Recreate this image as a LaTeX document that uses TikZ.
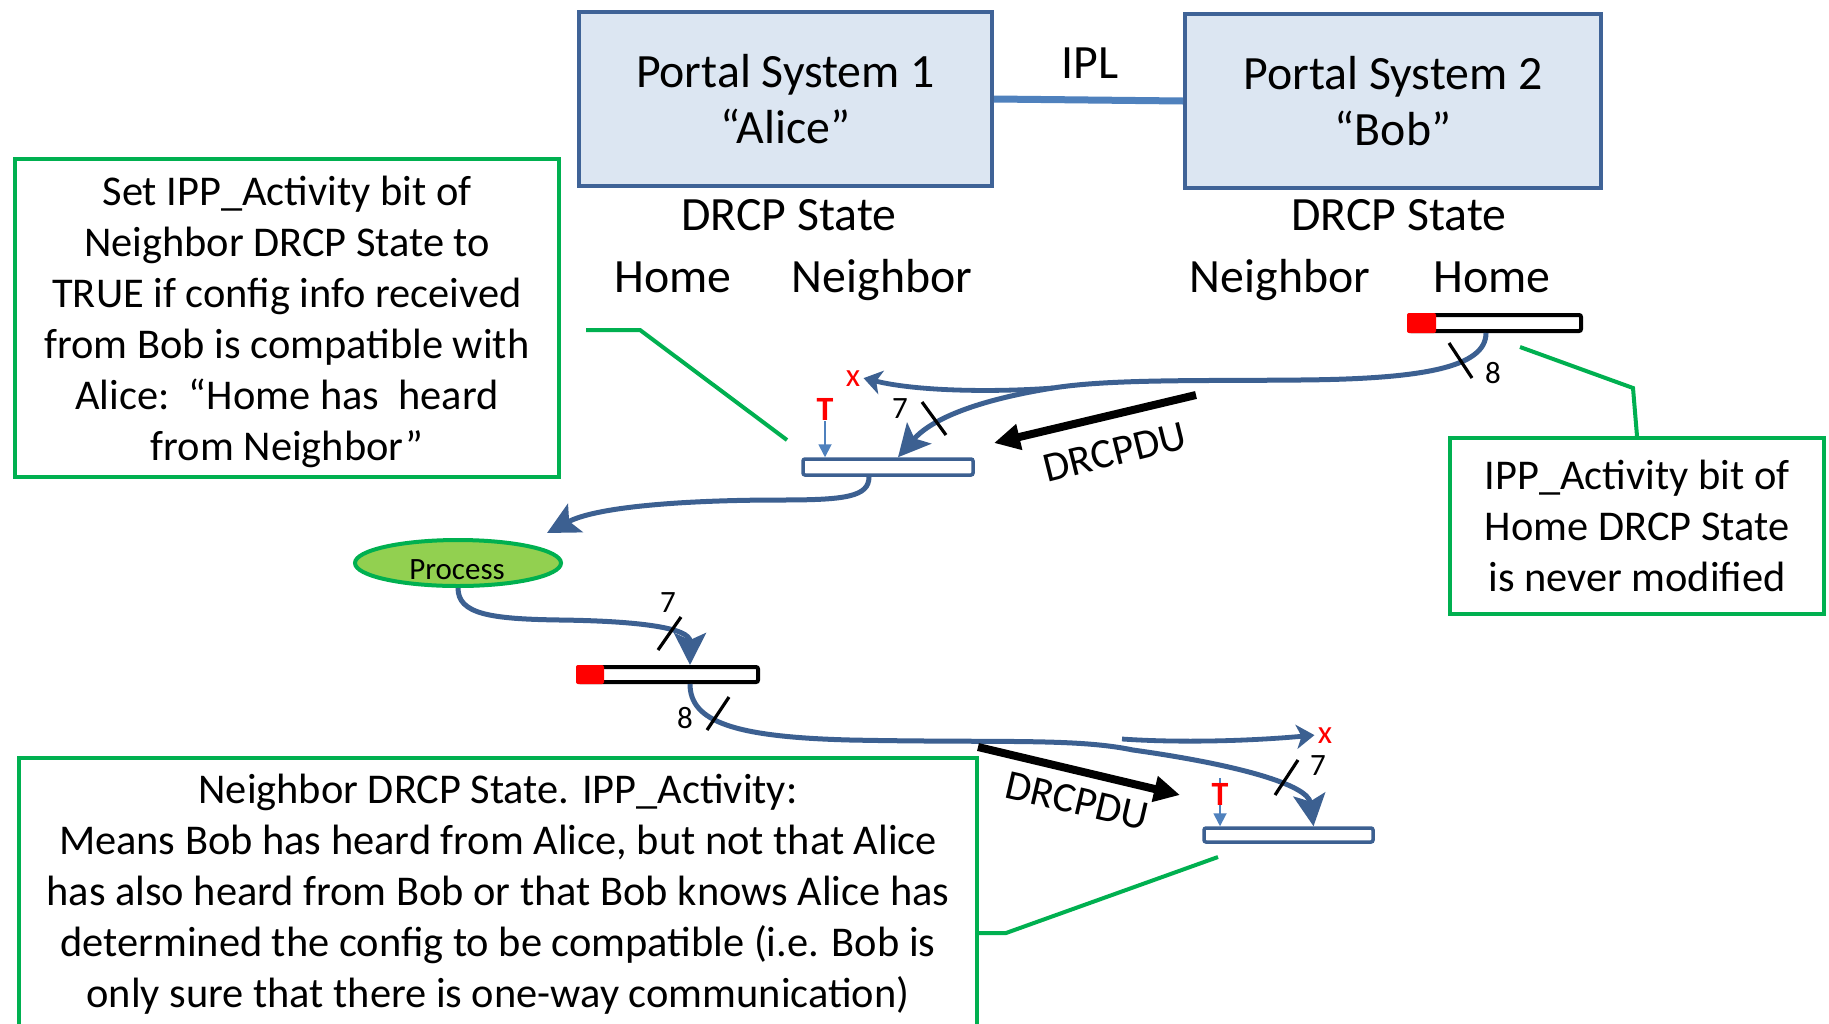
\documentclass[tikz,border=0pt]{standalone}
\usepackage{fontspec}
\setmainfont{Carlito}
\usetikzlibrary{arrows.meta,shapes.geometric,calc}
\definecolor{curveblue}{HTML}{3C6091}
\definecolor{iplblue}{HTML}{4F81BD}
\definecolor{boxfill}{HTML}{DCE6F2}
\definecolor{boxedge}{HTML}{3F6397}
\definecolor{callgreen}{HTML}{00B050}
\definecolor{procfill}{HTML}{92D050}
\definecolor{tred}{HTML}{FF0000}
\begin{document}
\begin{tikzpicture}[x=0.5pt,y=-0.5pt,
  portal/.style={draw=boxedge, fill=boxfill, line width=2pt, minimum width=206.5pt, minimum height=87pt, align=center, font=\fontsize{23.9}{28}\selectfont, inner sep=0pt},
  bigtxt/.style={font=\fontsize{23.9}{28}\selectfont, inner sep=0pt, anchor=base},
  note/.style={draw=callgreen, line width=2pt, align=center, inner sep=0pt, font=\fontsize{21.2}{25.5}\selectfont},
  notetxt/.style={font=\fontsize{21.2}{25.5}\selectfont, align=center, inner sep=0pt},
  greenline/.style={draw=callgreen, line width=2pt},
  blackbar/.style={draw=black, fill=white, line width=2pt, rounded corners=1pt, inner sep=0pt},
  bluebar/.style={draw=curveblue, fill=white, line width=1.75pt, rounded corners=1pt, inner sep=0pt},
  flow/.style={draw=curveblue, line width=2.5pt, -{Stealth[length=16pt,width=16pt,inset=3.5pt]}},
  lostflow/.style={draw=curveblue, line width=2.4pt, -{Stealth[length=9pt,width=12pt,inset=2.5pt]}},
  tickmark/.style={draw=black, line width=1.6pt},
  numlbl/.style={font=\fontsize{15.5}{18}\selectfont, inner sep=0pt, anchor=base},
  xlbl/.style={font=\fontsize{16.5}{18}\selectfont, text=tred, inner sep=1.5pt, anchor=base},
  tlbl/.style={font=\fontsize{17}{18}\selectfont\bfseries, text=tred, inner sep=0.5pt, anchor=base},
  tarrow/.style={draw=iplblue, line width=0.9pt, -{Triangle[length=6.5pt,width=6.5pt]}},
  pdu/.style={draw=black, line width=4pt, -{Triangle[length=13pt,width=12.5pt]}},
  pdutxt/.style={font=\fontsize{21}{24}\selectfont, inner sep=0pt}
]
\useasboundingbox (0,0) rectangle (1829,1023);
\clip (0,0) rectangle (1829,1023);
\fill[white] (0,0) rectangle (1829,1023);

% portal systems
\node[portal] (ps1) at (785.5,99) {Portal System 1\\“Alice”};
\node[portal, minimum width=208pt] (ps2) at (1393,101) {Portal System 2\\“Bob”};
\draw[iplblue, line width=3.5pt] (ps1.east) -- (ps2.west);
\node[bigtxt] (ipl) at (1090,78) {IPL};
\node[bigtxt] (ds1) at (789,230) {DRCP State};
\node[bigtxt] (ds2) at (1399,230) {DRCP State};
\node[bigtxt] (h1) at (673,292) {Home};
\node[bigtxt] (n1) at (882,292) {Neighbor};
\node[bigtxt] (n2) at (1280,292) {Neighbor};
\node[bigtxt] (h2) at (1492,292) {Home};

% state bars
\node[blackbar, minimum width=86pt, minimum height=8pt] (bobH) at (1495,323) {};
\fill[tred, rounded corners=1pt] (bobH.north west) rectangle ($(bobH.south west)+(29,0)$);
\node[blackbar, minimum width=90pt, minimum height=7.5pt] (aliceH) at (668,674.5) {};
\fill[tred, rounded corners=1pt] (aliceH.north west) rectangle ($(aliceH.south west)+(28,0)$);
\node[bluebar, minimum width=85pt, minimum height=8pt] (aliceN) at (888,467) {};
\node[bluebar, minimum width=84.5pt, minimum height=7pt] (bobN) at (1288.5,835) {};

% process
\node[ellipse, draw=callgreen, fill=procfill, line width=2pt, minimum width=103pt, minimum height=23pt, inner sep=0pt] (proc) at (458,563) {};
\node[font=\fontsize{15.5}{18}\selectfont, inner sep=0pt, anchor=base] (proctxt) at (457,579) {Process};

% notes
\node[note, minimum width=272pt, minimum height=159pt] (noteL) at (287,318) {};
\node[notetxt] (noteLtxt) at (287,322) {Set IPP\_Activity bit of\\Neighbor DRCP State to\\TRUE if config info received\\from Bob is compatible with\\Alice:\ \ “Home has\ \ heard\\from Neighbor”};
\node[note, minimum width=187pt, minimum height=88pt] (noteR) at (1637,526) {IPP\_Activity bit of\\Home DRCP State\\is never modified};
\node[note, minimum width=479pt, minimum height=150pt] (noteB) at (498,908) {};
\node[notetxt] (noteBtxt) at (498,894) {Neighbor DRCP State. IPP\_Activity:\\Means Bob has heard from Alice, but not that Alice\\has also heard from Bob or that Bob knows Alice has\\determined the config to be compatible (i.e. Bob is\\only sure that there is one-way communication)};

% callout lines
\coordinate (cL1) at (586,330);
\coordinate (cL2) at (640,330);
\coordinate (cL3) at (787,440);
\draw[greenline] (cL1) -- (cL2) -- (cL3);
\coordinate (cR1) at (1520,347);
\coordinate (cR2) at (1633,388);
\draw[greenline] (cR1) -- (cR2) -- (noteR.north);
\coordinate (cB1) at (1006,933);
\coordinate (cB2) at (1218,857);
\draw[greenline] (noteB.east |- cB1) -- (cB1) -- (cB2);

% labels for lost frames and timers
\node[xlbl] (xa) at (853,386) {x};
\node[xlbl] (xb) at (1325,743) {x};
\node[tlbl] (ta) at (825,420) {T};
\draw[tarrow] (ta.south) -- (ta.south |- aliceN.north);
\coordinate (tbtop) at (1220,778);
\draw[tarrow] (tbtop) -- (tbtop |- bobN.north);
\node[tlbl] (tb) at (1220,805) {T};

% flows
\coordinate (split1) at (1053,388);
\draw[flow] ($(bobH.south)+(-9,0)$) .. controls (1486,368) and (1420,379) .. (1300,380)
  .. controls (1200,381) and (1110,379) .. (split1)
  .. controls (990,398) and (935,415) .. ($(aliceN.north)+(10,0)$);
\draw[lostflow] (split1) .. controls (1000,392) and (920,392) .. (xa.east);

\coordinate (pin) at (547,533);
\draw[flow] ($(aliceN.south)+(-19,0)$) .. controls (869,497) and (845,500) .. (780,500)
  .. controls (700,500) and (600,505) .. (pin);

\draw[flow] (proc.south) .. controls (458,614) and (490,619) .. (560,620)
  .. controls (640,621) and (690,628) .. ($(aliceH.north)+(22,0)$);

\coordinate (split2) at (1122,739);
\draw[flow] ($(aliceH.south)+(22,0)$) .. controls (690,722) and (735,737) .. (850,740)
  .. controls (1000,743) and (1075,738) .. (1133,750)
  .. controls (1240,765) and (1308,785) .. ($(bobN.north)+(25,0)$);
\draw[lostflow] (split2) .. controls (1180,743) and (1250,741) .. (xb.west);

% ticks
\draw[tickmark] (1449,343) -- (1472,378);
\draw[tickmark] (922,402) -- (946,435);
\draw[tickmark] (658,650) -- (681,617);
\draw[tickmark] (707,730) -- (729,697);
\draw[tickmark] (1275,795) -- (1298,760);
\node[numlbl] (l8a) at (1493,383) {8};
\node[numlbl] (l7a) at (900,418) {7};
\node[numlbl] (l7b) at (668,612) {7};
\node[numlbl] (l8b) at (685,728) {8};
\node[numlbl] (l7c) at (1318,775) {7};

% DRCPDU transfers
\coordinate (pduA1) at (1196,395);
\coordinate (pduA2) at (994,443);
\draw[pdu] (pduA1) -- (pduA2);
\node[pdutxt, rotate=14] (pduAt) at (1115,452) {DRCPDU};
\coordinate (pduB1) at (978,747);
\coordinate (pduB2) at (1180,795);
\draw[pdu] (pduB1) -- (pduB2);
\node[pdutxt, rotate=-13] (pduBt) at (1077,801) {DRCPDU};
\end{tikzpicture}
\end{document}
